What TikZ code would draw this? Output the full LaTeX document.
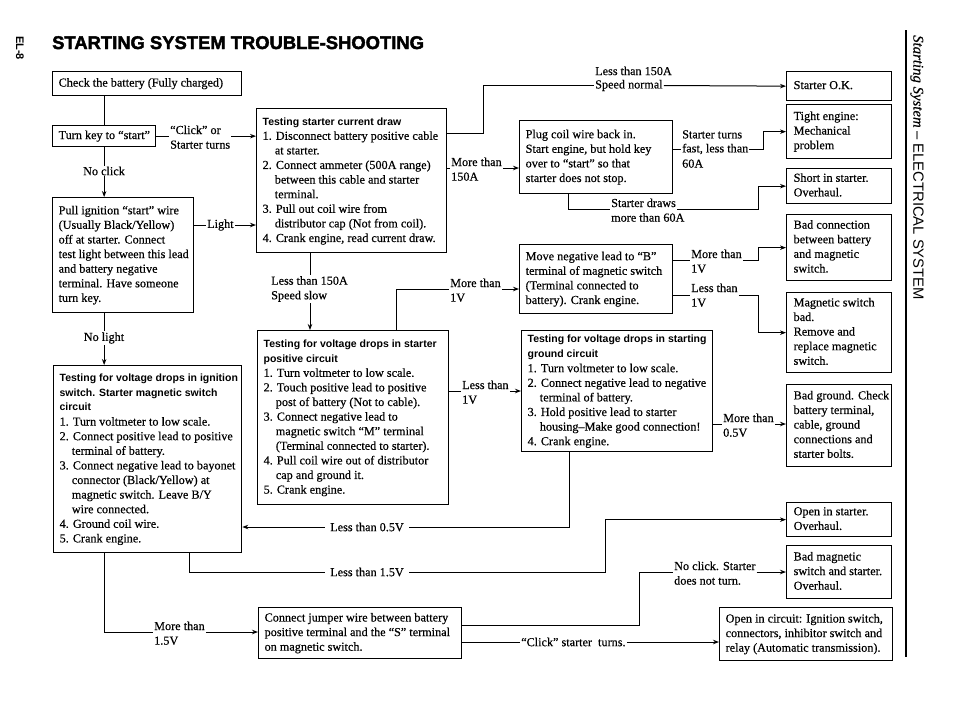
\documentclass[tikz,border=0pt]{standalone}
\usepackage{fontspec}
\setmainfont{Liberation Serif}[FakeBold=0.4]
\setsansfont{Liberation Sans}
\newfontfamily\titlefont[FakeBold=2.2]{Liberation Sans}
\usetikzlibrary{arrows.meta}
\newcommand\myind{\hphantom{1.\ }}
\newcommand\bodyfont{\rmfamily\fontsize{12.2pt}{14.6pt}\selectfont}
\newcommand\hd{\sffamily\bfseries\fontsize{10.5pt}{14.6pt}\selectfont}
\newcommand\bt[2]{\makebox[#1][l]{\begin{tabular}{@{}l@{}}#2\end{tabular}}}
\begin{document}
\begin{tikzpicture}[x=1pt,y=-1pt,
  box/.style={draw, line width=1.3pt, anchor=north west, inner xsep=6pt, inner ysep=0pt, font=\bodyfont},
  rbox/.style={box, inner xsep=7pt, minimum width=105pt},
  lbl/.style={inner sep=1pt, font=\bodyfont},
  conn/.style={line width=1pt},
  arr/.style={conn, -{Stealth[length=6pt,width=4.5pt]}}]
\useasboundingbox (0,0) rectangle (960,724);

% titles
\node[anchor=base west, inner sep=0pt, font=\titlefont\bfseries\fontsize{18.4pt}{20pt}\selectfont] (title) at (52,49) {STARTING SYSTEM TROUBLE-SHOOTING};
\node[rotate=-90, inner sep=0pt, font=\sffamily\bfseries\fontsize{11pt}{12pt}\selectfont] (page) at (20,48) {EL-8};
\node[rotate=-90, anchor=west, inner sep=0pt, font=\fontsize{14.8pt}{16pt}\selectfont] (side) at (917,35) {{\rmfamily\itshape Starting System} {\sffamily -- ELECTRICAL SYSTEM}};
\coordinate (rtop) at (906,30);
\coordinate (rbot) at (906,657);
\draw[line width=1.1pt] (rtop) -- (rbot);

% left column
\node[box, minimum width=189pt, minimum height=24pt] (battery) at (52,71) {\bt{177pt}{Check the battery (Fully charged)}};
\node[box, minimum width=103pt, minimum height=21pt] (turnkey) at (52,125) {\bt{91pt}{Turn key to “start”}};
\node[box, minimum width=141pt, minimum height=115pt] (pull) at (52,197) {\bt{129pt}{Pull ignition “start” wire\\(Usually Black/Yellow)\\off at starter. Connect\\test light between this lead\\and battery negative\\terminal. Have someone\\turn key.}};
\node[box, minimum width=188pt, minimum height=187pt] (ign) at (53,365) {\bt{176pt}{{\hd Testing for voltage drops in ignition}\\{\hd switch. Starter magnetic switch}\\{\hd circuit}\\1. Turn voltmeter to low scale.\\2. Connect positive lead to positive\\\myind terminal of battery.\\3. Connect negative lead to bayonet\\\myind connector (Black/Yellow) at\\\myind magnetic switch. Leave B/Y\\\myind wire connected.\\4. Ground coil wire.\\5. Crank engine.}};

% middle column
\node[box, minimum width=190pt, minimum height=144pt] (current) at (256,108) {\bt{178pt}{{\hd Testing starter current draw}\\1. Disconnect battery positive cable\\\myind at starter.\\2. Connect ammeter (500A range)\\\myind between this cable and starter\\\myind terminal.\\3. Pull out coil wire from\\\myind distributor cap (Not from coil).\\4. Crank engine, read current draw.}};
\node[box, minimum width=191pt, minimum height=174pt] (positive) at (257,330) {\bt{179pt}{{\hd Testing for voltage drops in starter}\\{\hd positive circuit}\\1. Turn voltmeter to low scale.\\2. Touch positive lead to positive\\\myind post of battery (Not to cable).\\3. Connect negative lead to\\\myind magnetic switch “M” terminal\\\myind (Terminal connected to starter).\\4. Pull coil wire out of distributor\\\myind cap and ground it.\\5. Crank engine.}};
\node[box, minimum width=203pt, minimum height=51pt] (jumper) at (258,607) {\bt{191pt}{Connect jumper wire between battery\\positive terminal and the “S” terminal\\on magnetic switch.}};

% centre-right column
\node[box, minimum width=153pt, minimum height=73pt] (plug) at (519,120) {\bt{141pt}{Plug coil wire back in.\\Start engine, but hold key\\over to “start” so that\\starter does not stop.}};
\node[box, minimum width=153pt, minimum height=69pt] (move) at (519,244) {\bt{141pt}{Move negative lead to “B”\\terminal of magnetic switch\\(Terminal connected to\\battery). Crank engine.}};
\node[box, minimum width=191pt, minimum height=121pt] (ground) at (521,330) {\bt{179pt}{{\hd Testing for voltage drops in starting}\\{\hd ground circuit}\\1. Turn voltmeter to low scale.\\2. Connect negative lead to negative\\\myind terminal of battery.\\3. Hold positive lead to starter\\\myind housing--Make good connection!\\4. Crank engine.}};

% right column
\node[rbox, minimum height=29pt] (ok) at (786,71) {\bt{91pt}{Starter O.K.}};
\node[rbox, minimum height=54pt] (tight) at (786,104) {\bt{91pt}{Tight engine:\\Mechanical\\problem}};
\node[rbox, minimum height=35pt] (short) at (786,168) {\bt{91pt}{Short in starter.\\Overhaul.}};
\node[rbox, minimum height=66pt] (badconn) at (786,214) {\bt{91pt}{Bad connection\\between battery\\and magnetic\\switch.}};
\node[rbox, minimum height=80pt] (magsw) at (786,292) {\bt{91pt}{Magnetic switch\\bad.\\Remove and\\replace magnetic\\switch.}};
\node[rbox, minimum height=82pt] (badgnd) at (786,384) {\bt{91pt}{Bad ground. Check\\battery terminal,\\cable, ground\\connections and\\starter bolts.}};
\node[rbox, minimum height=34pt] (openst) at (786,502) {\bt{91pt}{Open in starter.\\Overhaul.}};
\node[rbox, minimum height=53pt] (badmag) at (786,545) {\bt{91pt}{Bad magnetic\\switch and starter.\\Overhaul.}};
\node[box, minimum width=173pt, minimum height=53pt] (opencirc) at (719,607) {\bt{161pt}{Open in circuit: Ignition switch,\\connectors, inhibitor switch and\\relay (Automatic transmission).}};

% ---- connectors ----
\draw[conn] (turnkey.north) -- (turnkey.north |- battery.south);
\draw[arr] (turnkey.south) -- (turnkey.south |- pull.north);
\node[lbl, fill=white] (noclick) at (104,171) {No click};

\node[lbl, anchor=base west] (click1) at (169,134) {“Click” or};
\node[lbl, anchor=base west] (click2) at (169,148.6) {Starter turns};
\draw[conn] (turnkey.east) -- (turnkey.east -| click2.west);
\draw[arr] (click2.east |- turnkey.east) -- (current.west |- turnkey.east);

\node[lbl, anchor=west] (light) at (206,225) {Light};
\draw[conn] (pull.east |- light.west) -- (light.west);
\draw[arr] (light.east) -- (current.west |- light.east);

\draw[arr] (turnkey.south |- pull.south) -- (turnkey.south |- ign.north);
\node[lbl, fill=white] (nolight) at (104,338) {No light};

% current -> Starter O.K.
\coordinate (c1) at (483,133);
\node[lbl, anchor=west] (sn1) at (594,70.9) {Less than 150A};
\node[lbl, anchor=west] (sn2) at (594,85.5) {Speed normal};
\draw[conn] (current.east |- c1) -- (c1) |- (sn2.west);
\draw[arr] (sn2.east) -- (ok.west);

% current -> plug
\coordinate (m1) at (0,168);
\node[lbl, anchor=base west] (mt1) at (450,166) {More than};
\node[lbl, anchor=base west] (mt2) at (450,180.6) {150A};
\draw[conn] (current.east |- m1) -- (mt1.west |- m1);
\draw[arr] (mt1.east |- m1) -- (plug.west |- m1);

% current -> positive
\coordinate (ss) at (310,0);
\draw[arr] (current.south -| ss) -- (positive.north -| ss);
\node[lbl, fill=white, anchor=north west, align=left] (slow) at (270,275) {Less than 150A\\Speed slow};

% positive -> move
\coordinate (p1) at (396,289);
\node[lbl, anchor=base west] (pm1) at (449,287) {More than};
\node[lbl, anchor=base west] (pm2) at (449,301.6) {1V};
\draw[conn] (positive.north -| p1) -- (p1) -- (pm1.west |- p1);
\draw[arr] (pm1.east |- p1) -- (move.west |- p1);

% positive -> ground
\coordinate (l1) at (0,391);
\node[lbl, anchor=base west] (pl1) at (461,389) {Less than};
\node[lbl, anchor=base west] (pl2) at (461,403.6) {1V};
\draw[conn] (positive.east |- l1) -- (pl1.west |- l1);
\draw[arr] (pl1.east |- l1) -- (ground.west |- l1);

% plug -> tight
\node[lbl, anchor=west] (st1) at (681,134.4) {Starter turns};
\node[lbl, anchor=west] (st2) at (681,149) {fast, less than};
\node[lbl, anchor=west] (st3) at (681,163.6) {60A};
\coordinate (t1) at (763,149);
\draw[conn] (plug.east |- st2.west) -- (st2.west);
\draw[arr] (st2.east) -- (t1) |- (tight.west);

% plug -> short
\coordinate (d1) at (568,209);
\coordinate (d2) at (758,209);
\node[lbl, anchor=base west] (sd1) at (610,207) {Starter draws};
\node[lbl, anchor=base west] (sd2) at (610,221.6) {more than 60A};
\draw[conn] (plug.south -| d1) -- (d1) -- (sd1.west |- d1);
\draw[arr] (sd1.east |- d2) -- (d2) |- (short.west);

% move -> badconn
\coordinate (k1) at (758,260);
\node[lbl, anchor=base west] (mm1) at (690,258) {More than};
\node[lbl, anchor=base west] (mm2) at (690,272.6) {1V};
\draw[conn] (move.east |- k1) -- (mm1.west |- k1);
\draw[arr] (mm1.east |- k1) -- (k1) |- (badconn.west);

% move -> magsw
\coordinate (k2) at (758,295);
\node[lbl, anchor=base west] (ml1) at (690,292) {Less than};
\node[lbl, anchor=base west] (ml2) at (690,306.6) {1V};
\draw[conn] (move.east |- k2) -- (ml1.west |- k2);
\draw[arr] (ml1.east |- k2) -- (k2) |- (magsw.west);

% ground -> badgnd
\coordinate (g0) at (0,424);
\node[lbl, anchor=base west] (gm1) at (722,422) {More than};
\node[lbl, anchor=base west] (gm2) at (722,436.6) {0.5V};
\draw[conn] (ground.east |- g0) -- (gm1.west |- g0);
\draw[arr] (gm1.east |- g0) -- (badgnd.west |- g0);

% ground -> ign
\coordinate (g1) at (569,527);
\draw[arr] (ground.south -| g1) -- (g1) -- (ign.east |- g1);
\node[lbl, fill=white, inner xsep=5pt] (lt05) at (367,527) {Less than 0.5V};

% ign -> openst
\coordinate (i1) at (189,572);
\coordinate (i2) at (605,572);
\draw[arr] (ign.south -| i1) -- (i1) -- (i2) |- (openst.west);
\node[lbl, fill=white, inner xsep=5pt] (lt15) at (367,572) {Less than 1.5V};

% ign -> jumper
\coordinate (i3) at (104,632);
\node[lbl, anchor=base west] (im1) at (153,630) {More than};
\node[lbl, anchor=base west] (im2) at (153,644.6) {1.5V};
\draw[conn] (ign.south -| i3) -- (i3) -- (im1.west |- i3);
\draw[arr] (im1.east |- i3) -- (jumper.west |- i3);

% jumper -> badmag
\coordinate (j1) at (639,625);
\coordinate (j2) at (639,572);
\node[lbl, anchor=base west] (nc1) at (673,570) {No click. Starter};
\node[lbl, anchor=base west] (nc2) at (673,584.6) {does not turn.};
\draw[conn] (jumper.east |- j1) -- (j1) -- (j2) -- (nc1.west |- j2);
\draw[arr] (nc1.east |- j2) -- (badmag.west |- j2);

% jumper -> opencirc
\node[lbl, anchor=west] (ck) at (520,642) {“Click” starter\ \ turns.};
\draw[conn] (jumper.east |- ck.west) -- (ck.west);
\draw[arr] (ck.east) -- (opencirc.west |- ck.east);
\end{tikzpicture}
\end{document}
